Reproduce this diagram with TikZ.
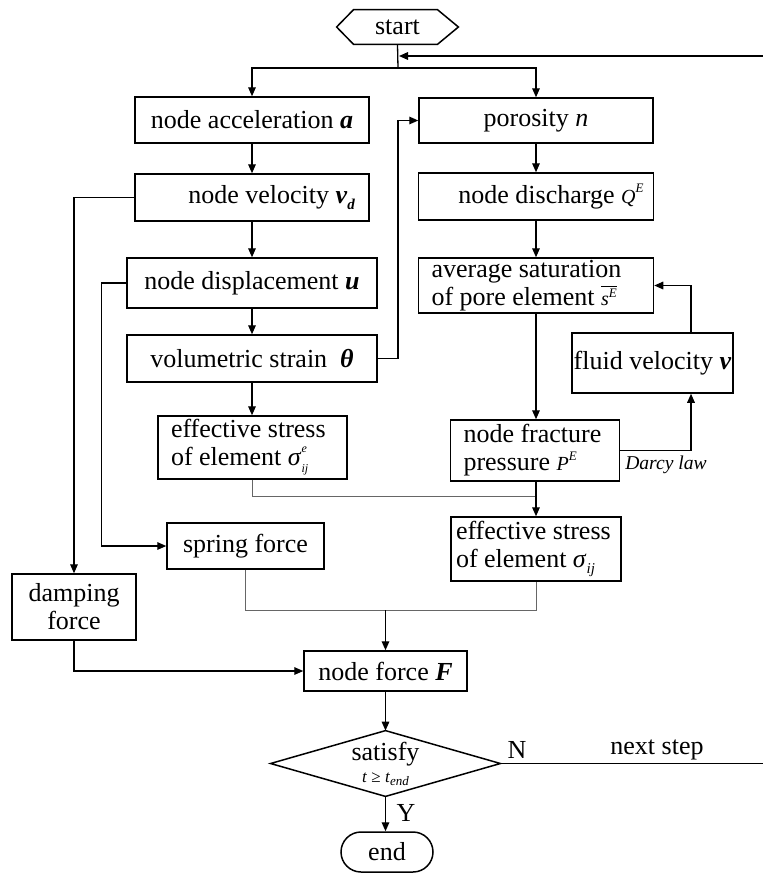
\documentclass[tikz,border=0pt]{standalone}
\usepackage{fontspec}
\setmainfont{Liberation Serif}
\usetikzlibrary{arrows.meta}
\newcommand{\mysub}[1]{\raisebox{-0.5ex}{\fontsize{7.5}{7.5}\selectfont\textit{#1}}}
\newcommand{\mysup}[1]{\raisebox{0.85ex}{\fontsize{6.5}{6.5}\selectfont\textit{#1}}}
\newcommand{\mysupsub}[2]{\makebox[0pt][l]{\raisebox{1.15ex}{\fontsize{6}{6}\selectfont\textit{#1}}}\raisebox{-0.6ex}{\fontsize{6}{6}\selectfont\textit{#2}}}
\newcommand{\bi}[1]{\textbf{\textit{#1}}}
\begin{document}
\begin{tikzpicture}[x=0.5pt,y=-0.5pt,
  font=\fontsize{13}{14}\selectfont,
  box/.style={draw, line width=0.75pt, inner sep=0pt, align=center},
  sz/.style 2 args={minimum width=#1*0.5pt, minimum height=#2*0.5pt},
  conn/.style={line width=0.65pt, -{Triangle[length=4.5pt,width=3.8pt]}},
  plain/.style={line width=0.65pt},
  thinline/.style={line width=0.5pt, draw=black!60}]
\useasboundingbox (0,0) rectangle (763,873);

% start
\node[inner sep=0pt, sz={121}{34}] (start) at (397.5,27) {start};
\draw[line width=0.75pt] (start.west) -- ([xshift=8.5pt]start.north west) -- ([xshift=-10.5pt]start.north east) -- (start.east) -- ([xshift=-10.5pt]start.south east) -- ([xshift=8.5pt]start.south west) -- cycle;

% left column
\node[box, sz={234}{46}] (acc) at (252,120) {node acceleration \bi{a}};
\node[box, sz={234}{47}, text width=103pt, align=flush right] (vel) at (252,197.5) {node velocity \bi{v}\mysub{\textbf{d}}};
\node[box, sz={250}{50}] (disp) at (252,283) {node displacement \bi{u}};
\node[box, sz={250}{47}] (vol) at (252,358.5) {volumetric strain \ \bi{θ}};
\node[box, sz={189}{63}, text width=81.5pt, align=flush left] (eff1) at (252.5,447.5) {effective stress\\of element \textit{σ}\mysupsub{e}{ij}};
\node[box, sz={157}{46}] (spring) at (245.5,546) {spring force};
\node[box, sz={124}{66}] (damp) at (74,607) {damping\\force};

% right column
\node[box, sz={234}{45}] (por) at (536,120.5) {porosity \textit{n}};
\node[box, sz={235}{47}, text width=107.5pt, align=flush right] (dis) at (536,196.5) {node discharge {\fontsize{10}{10}\selectfont\textit{Q}}\mysup{E}};
\node[box, sz={235}{55}, text width=104.5pt, align=flush left] (avg) at (536,285.5) {average saturation\\of pore element $\overline{\hbox{\fontsize{10}{10}\selectfont\textit{s}\mysup{E}}}$};
\node[box, sz={161}{60}] (fluid) at (652.5,363) {fluid velocity \bi{v}};
\node[box, sz={169}{61}, text width=71.5pt, align=flush left] (frac) at (535,450.5) {node fracture\\pressure {\fontsize{10}{10}\selectfont\textit{P}}\mysup{E}};
\node[box, sz={170}{64}, text width=80pt, align=flush left] (eff2) at (536,549) {effective stress\\of element \textit{σ}\mysub{ij}};

% bottom
\node[box, sz={163}{40}] (force) at (385.5,671) {node force \bi{F}};
\node[inner sep=0pt, sz={229}{65}, align=center] (dec) at (385.5,763.5) {satisfy\\[-3pt]{\fontsize{8.5}{9}\selectfont\textit{t} ≥ \textit{t}\raisebox{-0.4ex}{\fontsize{6.5}{6.5}\selectfont\textit{end}}}};
\draw[line width=0.75pt] (dec.west) -- (dec.north) -- (dec.east) -- (dec.south) -- cycle;
\node[box, sz={92}{40}, rounded corners=10pt] (end) at (387,852) {end};

% labels
\node (darcy) at (666,465) {\fontsize{9.8}{10}\selectfont\textit{Darcy law}};
\node (nlab) at (517,750) {N};
\node (nstep) at (657,750) {next step};
\node (ylab) at (406,813) {Y};

% coordinates
\coordinate (split) at (398,68);
\coordinate (loopin) at (399,56);
\coordinate (rt) at (766,0);
\coordinate (fx) at (691,0);
\coordinate (vx) at (398,0);
\coordinate (j1) at (536,496);
\coordinate (merge) at (385.5,610);

% top split
\draw[plain] (start.south) -- (split);
\draw[conn] (split) -| (acc.north);
\draw[conn] (split) -| (por.north);

% loop back
\draw[conn] (dec.east) -- (dec.east -| rt) |- (loopin);

% left chain
\draw[conn] (acc) -- (vel);
\draw[conn] (vel) -- (disp);
\draw[conn] (disp) -- (vol);
\draw[conn] (vol) -- (eff1.north -| vol.south);
\draw[conn] (vol.east) -- (vol.east -| vx) |- (por.west);
\draw[conn] (vel.west) -| (damp.north);
\draw[conn] (disp.west) -- ++(-25,0) |- (spring.west);

% right chain
\draw[conn] (por) -- (dis);
\draw[conn] (dis) -- (avg);
\draw[conn] (avg.south) -- (avg.south |- frac.north);
\draw[conn] (frac.east) -| (fx |- fluid.south);
\draw[conn] (fx |- fluid.north) |- (avg.east);

% merges
\draw[thinline] (eff1.south) |- (j1);
\draw[conn] (frac.south -| j1) -- (eff2.north);
\draw[thinline] (spring.south) |- (eff2.south |- merge) -- (eff2.south);
\draw[conn] (merge) -- (force.north);
\draw[conn] (damp.south) |- (force.west);

% bottom chain
\draw[conn] (force) -- (dec.north);
\draw[conn] (dec.south) -- (dec.south |- end.north);
\end{tikzpicture}
\end{document}
